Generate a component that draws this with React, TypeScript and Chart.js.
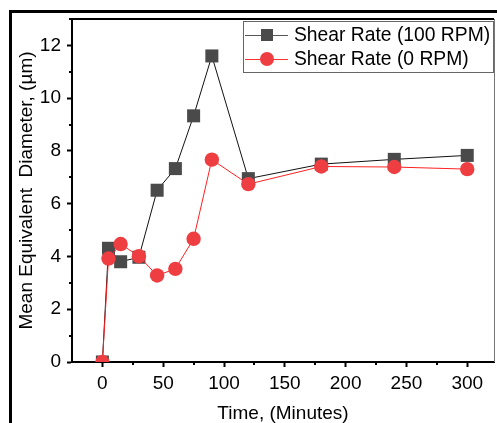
import { useEffect, useRef } from 'react';
import { Chart, LineController, registerables } from 'chart.js';

class FramedLineController extends LineController {
  getMaxOverflow() {
    return 0;
  }
}
(FramedLineController as any).id = 'framedLine';
(FramedLineController as any).defaults = (LineController as any).defaults;
(FramedLineController as any).overrides = (LineController as any).overrides;

Chart.register(...registerables, FramedLineController);

const times = [0, 5, 15, 30, 45, 60, 75, 90, 120, 180, 240, 300];
const rpm100 = [0, 4.31, 3.8, 3.97, 6.51, 7.33, 9.33, 11.6, 6.95, 7.5, 7.68, 7.83];
const rpm0 = [0, 3.92, 4.47, 4.01, 3.28, 3.53, 4.67, 7.67, 6.74, 7.41, 7.39, 7.31];
const xTicks = [0, 50, 100, 150, 200, 250, 300];
const yTicks = [0, 2, 4, 6, 8, 10, 12];
const xMinor = [25, 75, 125, 175, 225, 275];
const yMinor = [1, 3, 5, 7, 9, 11, 13];
const seriesLabels = ['Shear Rate (100 RPM)', 'Shear Rate (0 RPM)'];
const xTitle = 'Time, (Minutes)';
const yTitle = 'Mean Equivalent  Diameter, (\u00b5m)';

const FONT = "'Liberation Sans', Arial, Helvetica, sans-serif";
const SQ = '#4a4a4a';
const RED = '#ef3e42';

const decorPlugin = {
  id: 'decor',
  afterDraw(chart: any) {
    const ctx = chart.ctx;
    const { left, right, top, bottom } = chart.chartArea;
    const xs = chart.scales.x;
    const ys = chart.scales.y;
    ctx.save();
    // minor ticks
    ctx.strokeStyle = '#000';
    ctx.lineWidth = 2;
    ctx.beginPath();
    xMinor.forEach((v) => {
      const px = Math.round(xs.getPixelForValue(v));
      ctx.moveTo(px, bottom);
      ctx.lineTo(px, bottom + 3);
    });
    yMinor.forEach((v) => {
      const py = Math.round(ys.getPixelForValue(v));
      ctx.moveTo(left, py);
      ctx.lineTo(left - 3, py);
    });
    ctx.stroke();
    // top border of plot
    ctx.beginPath();
    ctx.lineWidth = 2;
    ctx.moveTo(left - 1, top);
    ctx.lineTo(right, top);
    ctx.stroke();
    // right border
    ctx.beginPath();
    ctx.strokeStyle = '#777';
    ctx.lineWidth = 1;
    ctx.moveTo(right + 0.5, top);
    ctx.lineTo(right + 0.5, bottom);
    ctx.stroke();
    // outer frame
    ctx.beginPath();
    ctx.strokeStyle = '#000';
    ctx.lineWidth = 3;
    ctx.moveTo(10.5, 11.5);
    ctx.lineTo(chart.width, 11.5);
    ctx.moveTo(10.5, 10);
    ctx.lineTo(10.5, chart.height);
    ctx.stroke();

    // legend
    const bx = 243.5, by = 21.5, bw = 250, bh = 51;
    ctx.fillStyle = '#fff';
    ctx.fillRect(bx, by, bw, bh);
    ctx.strokeStyle = '#666';
    ctx.lineWidth = 1;
    ctx.strokeRect(bx, by, bw, bh);
    const rows = [35, 59];
    ctx.font = `19.3px ${FONT}`;
    ctx.textBaseline = 'middle';
    ctx.textAlign = 'left';
    rows.forEach((ry, i) => {
      ctx.beginPath();
      ctx.strokeStyle = i === 0 ? '#555' : '#ff3030';
      ctx.lineWidth = 1;
      ctx.moveTo(245, ry + 0.5);
      ctx.lineTo(288, ry + 0.5);
      ctx.stroke();
      if (i === 0) {
        ctx.fillStyle = SQ;
        ctx.fillRect(261, ry - 6, 12, 12);
      } else {
        ctx.fillStyle = RED;
        ctx.beginPath();
        ctx.arc(267, ry, 7, 0, Math.PI * 2);
        ctx.fill();
      }
      ctx.fillStyle = '#000';
      ctx.fillText(seriesLabels[i], 294, ry + 1);
    });
    ctx.restore();
  },
};

export default function App() {
  const ref = useRef<HTMLCanvasElement | null>(null);
  useEffect(() => {
    if (!ref.current) return;
    const tickFont = { family: FONT, size: 19 };
    const chart = new Chart(ref.current, {
      type: 'framedLine',
      data: {
        datasets: [
          {
            label: seriesLabels[1],
            data: times.map((t, i) => ({ x: t, y: rpm0[i] })),
            borderColor: '#ff2020',
            borderWidth: 1,
            pointStyle: 'circle',
            pointRadius: 7.2,
            pointBackgroundColor: RED,
            pointBorderColor: RED,
            pointBorderWidth: 0,
            clip: 0,
            order: 0,
          },
          {
            label: seriesLabels[0],
            data: times.map((t, i) => ({ x: t, y: rpm100[i] })),
            borderColor: '#111',
            borderWidth: 1,
            pointStyle: 'rect',
            pointRadius: 9.2,
            pointBackgroundColor: SQ,
            pointBorderColor: SQ,
            pointBorderWidth: 0,
            clip: 0,
            order: 1,
          },
        ],
      },
      options: {
        animation: false,
        responsive: false,
        maintainAspectRatio: false,
        layout: { padding: { top: 19, right: 3, left: 0, bottom: 0 } },
        plugins: { legend: { display: false }, tooltip: { enabled: false } },
        scales: {
          x: {
            type: 'linear',
            min: -25,
            max: 322,
            afterBuildTicks: (s: any) => {
              s.ticks = xTicks.map((v) => ({ value: v }));
            },
            afterFit: (s: any) => {
              s.height = 61;
              s.paddingLeft = 0;
              s.paddingRight = 0;
            },
            grid: {
              display: true,
              drawOnChartArea: false,
              drawTicks: true,
              tickLength: 5,
              tickWidth: 2,
              tickColor: '#000',
            },
            border: { display: true, color: '#000', width: 2 },
            ticks: { color: '#000', font: tickFont, padding: 5, maxRotation: 0, autoSkip: false },
            title: {
              display: true,
              text: xTitle,
              color: '#000',
              font: tickFont,
              padding: { top: 0, bottom: -2 },
            },
          },
          y: {
            type: 'linear',
            min: 0,
            max: 13,
            afterBuildTicks: (s: any) => {
              s.ticks = yTicks.map((v) => ({ value: v }));
            },
            afterFit: (s: any) => {
              s.width = 72;
              s.paddingTop = 0;
              s.paddingBottom = 0;
            },
            grid: {
              display: true,
              drawOnChartArea: false,
              drawTicks: true,
              tickLength: 5,
              tickWidth: 2,
              tickColor: '#000',
            },
            border: { display: true, color: '#000', width: 2 },
            ticks: { color: '#000', font: tickFont, padding: 6, autoSkip: false },
            title: {
              display: true,
              text: yTitle,
              color: '#000',
              font: tickFont,
              padding: { top: 15, bottom: 0 },
            },
          },
        },
      },
      plugins: [decorPlugin],
    } as any);
    return () => chart.destroy();
  }, []);
  return (
    <div style={{ position: 'fixed', left: 0, top: 0, width: 497, height: 423, background: '#fff' }}>
      <canvas ref={ref} width={497} height={423} />
    </div>
  );
}
